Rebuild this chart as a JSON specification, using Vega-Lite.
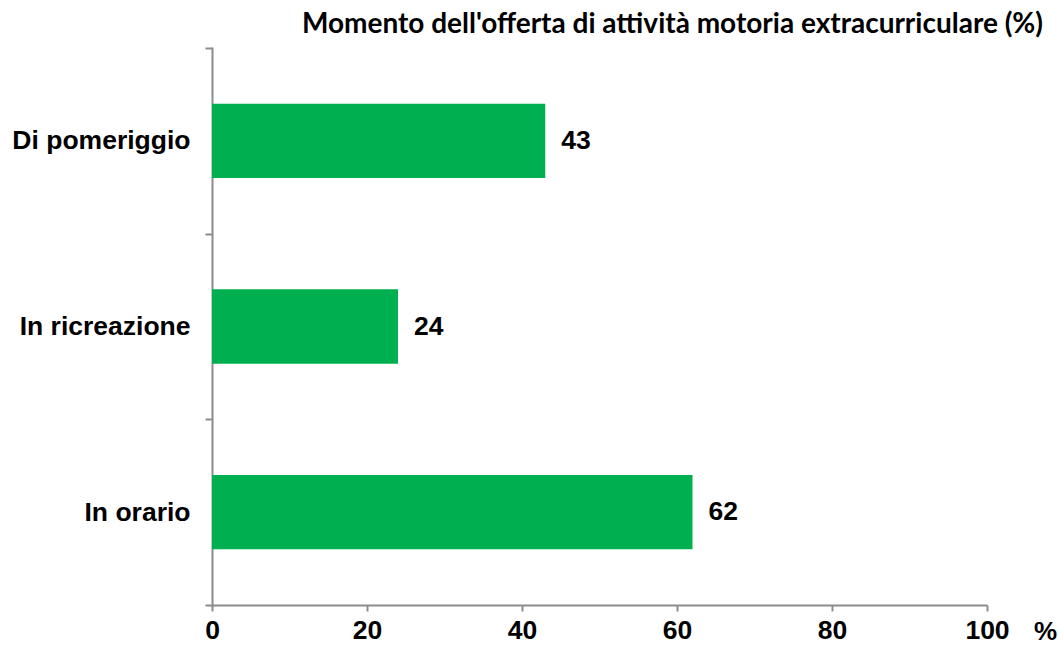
{
  "$schema": "https://vega.github.io/schema/vega-lite/v6.json",
  "width": 775,
  "height": 557,
  "autosize": "none",
  "padding": {"left": 212, "top": 48, "right": 71, "bottom": 41},
  "background": "white",
  "title": {
    "text": "Momento dell'offerta di attività motoria extracurriculare (%)",
    "anchor": "end",
    "frame": "group",
    "dx": 56,
    "offset": -32,
    "baseline": "bottom",
    "font": "Lato",
    "fontSize": 28,
    "fontWeight": "bold",
    "color": "black"
  },
  "data": {
    "values": [
      {"momento": "Di pomeriggio", "valore": 43},
      {"momento": "In ricreazione", "valore": 24},
      {"momento": "In orario", "valore": 62}
    ]
  },
  "config": {
    "view": {"stroke": null},
    "axis": {
      "domainColor": "#8c8c8c",
      "tickColor": "#8c8c8c",
      "domainWidth": 2,
      "tickWidth": 2,
      "labelFont": "Liberation Sans",
      "labelFontWeight": "bold",
      "labelFontSize": 26.5,
      "labelColor": "black",
      "grid": false
    }
  },
  "encoding": {
    "y": {
      "field": "momento",
      "type": "nominal",
      "sort": ["Di pomeriggio", "In ricreazione", "In orario"],
      "scale": {"paddingInner": 0, "paddingOuter": 0},
      "axis": {"title": null, "tickSize": 7, "labelPadding": 15, "tickBand": "extent", "domainCap": "square"}
    },
    "x": {
      "field": "valore",
      "type": "quantitative",
      "scale": {"domain": [0, 100], "nice": false},
      "axis": {
        "values": [0, 20, 40, 60, 80, 100],
        "tickSize": 6,
        "labelPadding": 6,
        "labelFlush": false,
        "title": "%",
        "titleFont": "Liberation Sans",
        "titleFontSize": 26,
        "titleFontWeight": "bold",
        "titleColor": "black",
        "titleX": 833,
        "titleY": 34,
        "titleAlign": "center",
        "titleBaseline": "alphabetic"
      }
    }
  },
  "layer": [
    {"mark": {"type": "bar", "color": "#00B050", "height": {"band": 0.4}}},
    {
      "mark": {"type": "text", "align": "left", "dx": 16, "font": "Liberation Sans", "fontSize": 26.5, "fontWeight": "bold", "color": "black"},
      "encoding": {"text": {"field": "valore", "type": "quantitative"}}
    }
  ]
}
